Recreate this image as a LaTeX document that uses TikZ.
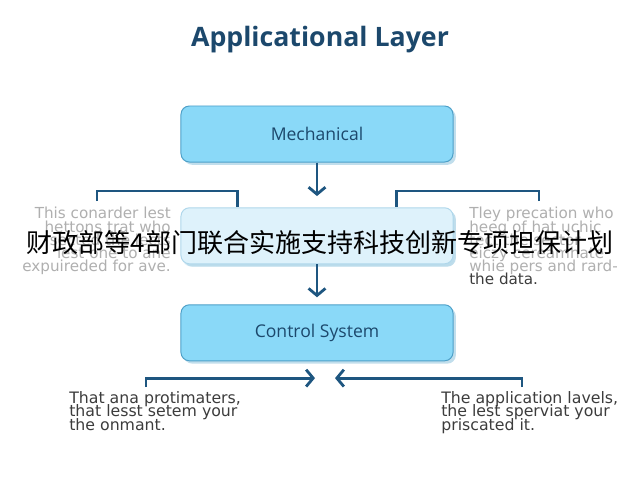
\documentclass[tikz,border=0pt]{standalone}
\usepackage{fontspec}
\setmainfont{Open Sans}
\newfontfamily\notefont{DejaVu Sans}
\newfontfamily\cjkfont{Noto Sans CJK SC}
\usetikzlibrary{positioning, arrows.meta, shadows}
\definecolor{lineablu}{RGB}{30,86,128}
\definecolor{bordoblu}{RGB}{78,160,200}
\definecolor{boxblu}{RGB}{138,217,248}
\definecolor{boxchiaro}{RGB}{222,242,251}
\definecolor{bordochiaro}{RGB}{175,215,235}
\definecolor{testoblu}{RGB}{28,72,108}
\definecolor{grigiochiaro}{RGB}{175,175,175}
\definecolor{grigioscuro}{RGB}{60,60,60}

\begin{document}
\begin{tikzpicture}[x=0.025cm, y=-0.025cm,
    box/.style={draw=bordoblu, fill=boxblu, line width=0.7pt, rounded corners=6pt,
        minimum width=6.8cm, minimum height=1.4cm, text=testoblu,
        font=\fontsize{12.5}{14}\selectfont,
        drop shadow={shadow xshift=2pt, shadow yshift=-2pt, fill=bordoblu, opacity=0.35}},
    freccia/.style={draw=lineablu, line width=2pt, -{Straight Barb[length=5pt, width=12pt]}},
    staffa/.style={draw=lineablu, line width=2pt},
    nota/.style={inner sep=0pt, font=\notefont\fontsize{10.8}{9.4}\selectfont\setlength{\lineskiplimit}{-20pt}},
    notabassa/.style={nota, anchor=north west, align=left, text=grigioscuro,
        font=\notefont\fontsize{11.2}{9.7}\selectfont\setlength{\lineskiplimit}{-20pt}}]
    \useasboundingbox (0,0) rectangle (640,480);
    %titolo
    \node (titolo) at (320,40) [text=testoblu, font=\fontsize{19}{22}\selectfont\bfseries]{Applicational Layer};
    %disegno box
    \node[box] (mech) at (317,134) {Mechanical};
    \node[box, below=1.12cm of mech, fill=boxchiaro, draw=bordochiaro,
        drop shadow={shadow xshift=1pt, shadow yshift=-2pt, fill=bordochiaro, opacity=0.3}] (mid) {};
    \node[box, below=1cm of mid] (ctrl) {Control System};
    %disegno frecce verticali
    \draw[freccia, shorten >=8pt] (mech) -- (mid);
    \draw[freccia, shorten >=5pt] (mid) -- (ctrl);
    %disegno staffe
    \coordinate (quota) at (0,191);
    \coordinate (sx) at (97,201);
    \coordinate (dx) at (539,201);
    \coordinate (attsx) at ([xshift=1.42cm]mid.north west);
    \coordinate (attdx) at ([xshift=-1.42cm]mid.north east);
    \draw[staffa] (sx) -- (sx |- quota) -| (attsx);
    \draw[staffa] (dx) -- (dx |- quota) -| (attdx);
    %note laterali
    \node[nota, anchor=north east, align=right, text=grigiochiaro] (notasx) at (171,207)
        {This conarder lest\\hettons trat who\\sected the lects\\lest one to ane\\expuireded for ave.};
    \node[nota, anchor=north west, align=left, text=grigiochiaro] (notadx) at (469,207)
        {Tley precation who\\heeg of hat uchic\\tect the sector\\eiczy cereamhate\\whie pers and rard-\\\textcolor{grigioscuro}{the data.}};
    %frecce in basso
    \coordinate (pbsx) at (146,387);
    \coordinate (pbdx) at (522,387);
    \coordinate (puntasx) at ([xshift=-0.05cm, yshift=-0.42cm]ctrl.south);
    \coordinate (puntadx) at ([xshift=0.45cm, yshift=-0.42cm]ctrl.south);
    \draw[freccia] (pbsx) |- (puntasx);
    \draw[freccia] (pbdx) |- (puntadx);
    %note in basso
    \node[notabassa] (notabsx) at (69,391)
        {That ana protimaters,\\that lesst setem your\\the onmant.};
    \node[notabassa] (notabdx) at (441,391)
        {The application lavels,\\the lest sperviat your\\priscated it.};
    %scritta sovrapposta
    \node (scritta) at (320,243) [font=\cjkfont\fontsize{18.5}{20}\selectfont]{财政部等4部门联合实施支持科技创新专项担保计划};
\end{tikzpicture}
\end{document}
